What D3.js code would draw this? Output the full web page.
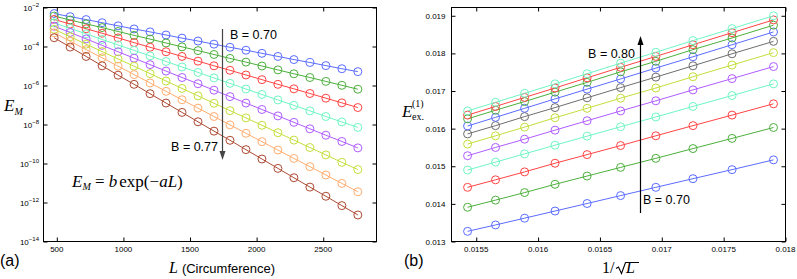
<!DOCTYPE html>
<html>
<head>
<meta charset="utf-8">
<script src="https://cdn.jsdelivr.net/npm/d3@7"></script>
<style>
  body { margin: 0; background: #fff; }
  text { font-family: "Liberation Sans", Arial, sans-serif; }
  .axis path { display: none; }
  .axis line { stroke: #000; }
</style>
</head>
<body>
<script>
// ---- panel (a): E_M against circumference L, one line per B ----
var circumference = [480, 600, 720, 840, 960, 1080, 1200, 1320, 1440, 1560,
                     1680, 1800, 1920, 2040, 2160, 2280, 2400, 2520, 2640, 2760];

var bLeft = ["0.70", "0.71", "0.72", "0.73", "0.74", "0.75", "0.76", "0.77"];

// log10(E_M)
var logEM = [
  [-2.31, -2.47, -2.62, -2.78, -2.94, -3.10, -3.25, -3.41, -3.57, -3.72, -3.88, -4.04, -4.19, -4.35, -4.51, -4.67, -4.82, -4.98, -5.14, -5.29],
  [-2.44, -2.64, -2.84, -3.03, -3.23, -3.43, -3.62, -3.82, -4.02, -4.21, -4.41, -4.61, -4.80, -5.00, -5.20, -5.40, -5.59, -5.79, -5.99, -6.19],
  [-2.61, -2.85, -3.09, -3.32, -3.56, -3.80, -4.04, -4.27, -4.51, -4.75, -4.99, -5.22, -5.46, -5.70, -5.94, -6.17, -6.41, -6.65, -6.89, -7.13],
  [-2.79, -3.07, -3.35, -3.64, -3.92, -4.20, -4.48, -4.77, -5.05, -5.33, -5.61, -5.89, -6.18, -6.46, -6.74, -7.02, -7.30, -7.59, -7.87, -8.15],
  [-2.96, -3.28, -3.61, -3.94, -4.27, -4.60, -4.93, -5.26, -5.59, -5.91, -6.24, -6.57, -6.90, -7.23, -7.56, -7.89, -8.22, -8.55, -8.87, -9.20],
  [-3.12, -3.50, -3.88, -4.26, -4.64, -5.01, -5.39, -5.77, -6.15, -6.53, -6.91, -7.29, -7.66, -8.04, -8.42, -8.80, -9.18, -9.56, -9.94, -10.31],
  [-3.30, -3.73, -4.16, -4.58, -5.01, -5.44, -5.87, -6.30, -6.73, -7.16, -7.59, -8.02, -8.45, -8.88, -9.31, -9.74, -10.16, -10.59, -11.02, -11.45],
  [-3.55, -4.03, -4.51, -4.99, -5.47, -5.94, -6.42, -6.90, -7.38, -7.86, -8.34, -8.81, -9.29, -9.77, -10.25, -10.73, -11.21, -11.68, -12.16, -12.64]
];

var colorsLeft = ["#5b6cff", "#4cb03c", "#ff4444", "#70f5c4", "#b05cff", "#c3df3a", "#ffad70", "#ad4a33"];

var leftXTicks = [500, 1000, 1500, 2000, 2500];
var leftYExp = [-2, -4, -6, -8, -10, -12, -14];

// ---- panel (b): first excitation against 1/sqrt(L), one line per B ----
var invSqrtL = [0.015430, 0.015656, 0.015891, 0.016137, 0.016396,
                0.016667, 0.016952, 0.017252, 0.017568, 0.017903];

var bRight = ["0.70", "0.71", "0.72", "0.73", "0.74", "0.75", "0.76", "0.77", "0.78", "0.79", "0.80"];

var eEx = [
  [0.01327, 0.01344, 0.01362, 0.01381, 0.01401, 0.01422, 0.01444, 0.01467, 0.01491, 0.01517],
  [0.01391, 0.01410, 0.01430, 0.01452, 0.01474, 0.01497, 0.01521, 0.01547, 0.01574, 0.01603],
  [0.01444, 0.01464, 0.01485, 0.01508, 0.01531, 0.01555, 0.01581, 0.01608, 0.01636, 0.01666],
  [0.01490, 0.01511, 0.01533, 0.01556, 0.01580, 0.01605, 0.01631, 0.01659, 0.01688, 0.01719],
  [0.01528, 0.01550, 0.01572, 0.01596, 0.01621, 0.01647, 0.01674, 0.01703, 0.01733, 0.01765],
  [0.01559, 0.01581, 0.01604, 0.01629, 0.01654, 0.01681, 0.01708, 0.01738, 0.01769, 0.01802],
  [0.01586, 0.01608, 0.01632, 0.01656, 0.01682, 0.01709, 0.01737, 0.01767, 0.01799, 0.01832],
  [0.01607, 0.01630, 0.01654, 0.01679, 0.01705, 0.01732, 0.01761, 0.01791, 0.01823, 0.01857],
  [0.01626, 0.01649, 0.01672, 0.01697, 0.01723, 0.01751, 0.01779, 0.01810, 0.01841, 0.01875],
  [0.01636, 0.01659, 0.01683, 0.01708, 0.01735, 0.01763, 0.01792, 0.01823, 0.01855, 0.01889],
  [0.01647, 0.01670, 0.01694, 0.01719, 0.01746, 0.01774, 0.01803, 0.01834, 0.01866, 0.01900]
];

var colorsRight = ["#5b6cff", "#4cb03c", "#ff4444", "#70f5c4", "#b05cff", "#c3df3a",
                   "#6e6e6e", "#5b6cff", "#4cb03c", "#ff4444", "#70f5c4"];

var rightXTicks = [0.0155, 0.016, 0.0165, 0.017, 0.0175, 0.018];
var rightXLabels = ["0.0155", "0.016", "0.0165", "0.017", "0.0175", "0.018"];
var rightYTicks = [0.013, 0.014, 0.015, 0.016, 0.017, 0.018, 0.019];
var rightYLabels = ["0.013", "0.014", "0.015", "0.016", "0.017", "0.018", "0.019"];

// page size
var w = 797;
var h = 279;
var tick = 4;
var radius = 4;
var serif = "'Liberation Serif', 'Times New Roman', serif";

var svg = d3.select("body")
            .append("svg")
            .attr("width", w)
            .attr("height", h);

// draw a box with inward ticks on all four sides
function drawFrame(xScale, yScale, xTicks, yTicks, box) {
  svg.append("rect")
     .attr("x", box.left)
     .attr("y", box.top)
     .attr("width", box.right - box.left)
     .attr("height", box.bottom - box.top)
     .attr("fill", "none")
     .attr("stroke", "#000")
     .attr("stroke-width", 1);

  svg.append("g").attr("class", "axis")
     .attr("transform", "translate(0," + box.bottom + ")")
     .call(d3.axisBottom(xScale).tickValues(xTicks).tickSize(-tick).tickFormat(""));
  svg.append("g").attr("class", "axis")
     .attr("transform", "translate(0," + box.top + ")")
     .call(d3.axisTop(xScale).tickValues(xTicks).tickSize(-tick).tickFormat(""));
  svg.append("g").attr("class", "axis")
     .attr("transform", "translate(" + box.left + ",0)")
     .call(d3.axisLeft(yScale).tickValues(yTicks).tickSize(-tick).tickFormat(""));
  svg.append("g").attr("class", "axis")
     .attr("transform", "translate(" + box.right + ",0)")
     .call(d3.axisRight(yScale).tickValues(yTicks).tickSize(-tick).tickFormat(""));
}

// draw lines with open circle markers
function drawSeries(xs, series, colors, xScale, yScale, yValue) {
  var line = d3.line()
               .x(function(d, i) { return xScale(xs[i]); })
               .y(function(d) { return yScale(yValue(d)); });

  for (var s = 0; s < series.length; s++) {
    var g = svg.append("g");
    g.append("path")
     .attr("d", line(series[s]))
     .attr("fill", "none")
     .attr("stroke", colors[s])
     .attr("stroke-width", 1);
    g.selectAll("circle")
     .data(series[s])
     .enter()
     .append("circle")
     .attr("cx", function(d, i) { return xScale(xs[i]); })
     .attr("cy", function(d) { return yScale(yValue(d)); })
     .attr("r", radius)
     .attr("fill", "none")
     .attr("stroke", colors[s])
     .attr("stroke-width", 1);
  }
}

// vertical arrow with a filled head
function drawArrow(x, yFrom, yTo, color) {
  var dir = yTo > yFrom ? 1 : -1;
  var headLen = 9;
  var headHalf = 3;
  svg.append("line")
     .attr("x1", x).attr("x2", x)
     .attr("y1", yFrom).attr("y2", yTo - dir * headLen)
     .attr("stroke", color)
     .attr("stroke-width", 1.2);
  svg.append("path")
     .attr("d", "M" + (x - headHalf) + "," + (yTo - dir * headLen) +
                "L" + (x + headHalf) + "," + (yTo - dir * headLen) +
                "L" + x + "," + yTo + "Z")
     .attr("fill", color);
}

/* ---------- panel (a) ---------- */
var boxA = {left: 43.5, right: 376.5, top: 7.5, bottom: 241.5};

var xA = d3.scaleLinear().domain([400, 2900]).range([boxA.left, boxA.right]);
var yA = d3.scaleLog().domain([1e-14, 1e-2]).range([boxA.bottom, boxA.top]);

drawFrame(xA, yA, leftXTicks, leftYExp.map(function(e) { return Math.pow(10, e); }), boxA);
drawSeries(circumference, logEM, colorsLeft, xA, yA, function(d) { return Math.pow(10, d); });

// x tick labels
svg.selectAll("text.xa")
   .data(leftXTicks)
   .enter()
   .append("text")
   .attr("class", "xa")
   .attr("x", function(d) { return xA(d); })
   .attr("y", boxA.bottom + 10)
   .attr("text-anchor", "middle")
   .style("font-size", "8px")
   .text(function(d) { return d; });

// y tick labels as powers of ten
for (var i = 0; i < leftYExp.length; i++) {
  var ty = yA(Math.pow(10, leftYExp[i]));
  var lab = svg.append("text")
               .attr("x", 39)
               .attr("y", ty + 3)
               .attr("text-anchor", "end")
               .style("font-size", "8px");
  lab.append("tspan").text("10");
  lab.append("tspan")
     .attr("dy", -4)
     .style("font-size", "6px")
     .text("\u2212" + Math.abs(leftYExp[i]));
}

// y label E_M
var yLabA = svg.append("text")
               .attr("x", 4)
               .attr("y", 111)
               .style("font-family", serif)
               .style("font-style", "italic")
               .style("font-size", "17px");
yLabA.append("tspan").text("E");
yLabA.append("tspan").attr("dy", 4).style("font-size", "10px").text("M");

// x label
var xLabA = svg.append("text")
               .attr("x", 169)
               .attr("y", 273);
xLabA.append("tspan")
     .style("font-family", serif)
     .style("font-style", "italic")
     .style("font-size", "16px")
     .text("L");
xLabA.append("tspan")
     .attr("dx", 4)
     .style("font-size", "13px")
     .text("(Circumference)");

// fit formula
var formula = svg.append("text")
                 .attr("x", 72)
                 .attr("y", 187)
                 .style("font-family", serif)
                 .style("font-size", "17px");
formula.append("tspan").style("font-style", "italic").text("E");
formula.append("tspan").attr("dy", 3).style("font-style", "italic").style("font-size", "10px").text("M");
formula.append("tspan").attr("dy", -3).text(" = ");
formula.append("tspan").style("font-style", "italic").text("b");
formula.append("tspan").attr("dx", 2).text("exp(\u2212");
formula.append("tspan").style("font-style", "italic").text("aL");
formula.append("tspan").text(")");

// B arrow
drawArrow(222.5, 29, 160, "#444");
svg.append("text").attr("x", 230).attr("y", 39)
   .style("font-size", "12.5px").text("B = " + bLeft[0]);
svg.append("text").attr("x", 218).attr("y", 151).attr("text-anchor", "end")
   .style("font-size", "12.5px").text("B = " + bLeft[bLeft.length - 1]);

svg.append("text").attr("x", 0).attr("y", 266)
   .style("font-size", "16px").text("(a)");

/* ---------- panel (b) ---------- */
var boxB = {left: 451.5, right: 785.5, top: 7.5, bottom: 241.5};

var xB = d3.scaleLinear().domain([0.0153, 0.018]).range([boxB.left, boxB.right]);
var yB = d3.scaleLinear().domain([0.013, 0.01922]).range([boxB.bottom, boxB.top]);

drawFrame(xB, yB, rightXTicks, rightYTicks, boxB);
drawSeries(invSqrtL, eEx, colorsRight, xB, yB, function(d) { return d; });

svg.selectAll("text.xb")
   .data(rightXTicks)
   .enter()
   .append("text")
   .attr("class", "xb")
   .attr("x", function(d) { return xB(d); })
   .attr("y", boxB.bottom + 10)
   .attr("text-anchor", "middle")
   .style("font-size", "8px")
   .text(function(d, i) { return rightXLabels[i]; });

svg.selectAll("text.yb")
   .data(rightYTicks)
   .enter()
   .append("text")
   .attr("class", "yb")
   .attr("x", boxB.left - 6)
   .attr("y", function(d) { return yB(d) + 3; })
   .attr("text-anchor", "end")
   .style("font-size", "8px")
   .text(function(d, i) { return rightYLabels[i]; });

// y label E_ex.^(1)
svg.append("text").attr("x", 402).attr("y", 117)
   .style("font-family", serif).style("font-style", "italic").style("font-size", "17px")
   .text("E");
svg.append("text").attr("x", 412).attr("y", 107)
   .style("font-family", serif).style("font-size", "10px")
   .text("(1)");
svg.append("text").attr("x", 412).attr("y", 120)
   .style("font-family", serif).style("font-size", "10px")
   .text("ex.");

// x label 1/sqrt(L)
svg.append("text").attr("x", 602).attr("y", 273)
   .style("font-family", serif).style("font-size", "16px")
   .text("1/");
svg.append("path")
   .attr("d", "M616,268.5L618.5,267L621.5,273.5L625.5,262.5L639,262.5")
   .attr("fill", "none")
   .attr("stroke", "#000")
   .attr("stroke-width", 1.1);
svg.append("text").attr("x", 626).attr("y", 273)
   .style("font-family", serif).style("font-style", "italic").style("font-size", "16px")
   .text("L");

drawArrow(640.5, 213, 36, "#000");
svg.append("text").attr("x", 635).attr("y", 58).attr("text-anchor", "end")
   .style("font-size", "12.5px").text("B = " + bRight[bRight.length - 1]);
svg.append("text").attr("x", 643).attr("y", 204)
   .style("font-size", "12.5px").text("B = " + bRight[0]);

svg.append("text").attr("x", 404).attr("y", 266)
   .style("font-size", "16px").text("(b)");
</script>
</body>
</html>
